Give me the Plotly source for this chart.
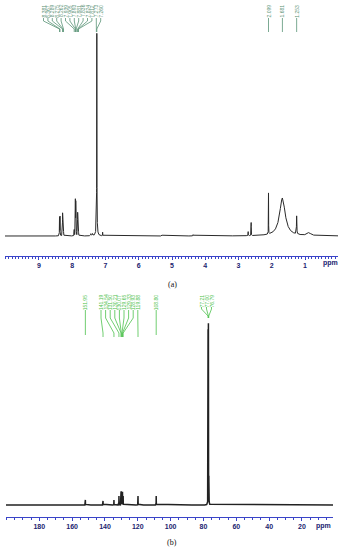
import numpy as np
import plotly.graph_objects as go

W, H = 348, 550

# ---------------- data: (a) 1H NMR ----------------
h_ppm = [8.381, 8.367, 8.289, 8.275, 8.262, 7.939, 7.905, 7.893, 7.881, 7.836, 7.824, 7.812,
         7.44, 7.39, 7.260, 7.262, 7.085, 5.30, 4.37, 2.71, 2.62, 2.099, 1.681, 1.253, 0.88]
h_int = [9.0, 9.5, 11.0, 10.5, 3.0, 3.0, 17.4, 16.0, 8.0, 11.0, 10.5, 3.0,
         1.0, 1.0, 90.0, 11.0, 1.8, 0.4, 0.6, 2.0, 6.5, 20.4, 18.9, 9.0, 1.5]
h_fwhm = [0.006, 0.006, 0.006, 0.006, 0.006, 0.006, 0.006, 0.006, 0.006, 0.006, 0.006, 0.006,
          0.02, 0.02, 0.005, 0.03, 0.006, 0.01, 0.01, 0.006, 0.006, 0.005, 0.2, 0.012, 0.12]
h_labels_left = ["8.381", "8.367", "8.289", "8.275", "8.262",
                 "7.939", "7.905", "7.893", "7.881", "7.836", "7.824", "7.812",
                 "7.273", "7.260"]
h_labels_right = ["2.099", "1.681", "1.253"]
h_ticks = [1, 2, 3, 4, 5, 6, 7, 8, 9]

# ---------------- data: (b) 13C NMR ----------------
c_ppm = [151.95, 141.19, 134.54, 131.50, 130.21, 130.07, 129.65, 129.33, 128.93,
         119.88, 108.80, 77.21, 77.00, 76.79]
c_int = [2.9, 2.3, 2.9, 5.1, 7.4, 7.4, 7.4, 7.4, 5.1, 5.1, 5.1, 98.0, 100.0, 98.0]
c_fwhm = [0.06] * 14
c_labels_single = ["151.95", "108.80"]
c_labels_group = ["141.19", "134.54", "131.50", "130.21", "130.07", "129.65",
                  "129.33", "128.93", "119.88"]
c_labels_solvent = ["77.21", "77.00", "76.79"]
c_ticks = [20, 40, 60, 80, 100, 120, 140, 160, 180]


def spectrum(ppm, inten, fwhm, lo, hi, step):
    x = np.union1d(np.arange(lo, hi, step), np.array(ppm))
    y = np.zeros_like(x)
    for p, a, w in zip(ppm, inten, fwhm):
        y += a / (1.0 + (2.0 * (x - p) / w) ** 2)
    return x, y


# ---------------- geometry (pixels) ----------------
A_X0, A_X1 = 5, 338
A_R = [10.02, 0.01]
A_PB, A_PT, A_BL, A_PEAK = 256, 18, 236, 35
A_K = (A_BL - A_PEAK) / 100.0
B_X0, B_X1 = 6, 333
B_R = [200.3, 1.1]
B_PB, B_PT, B_BL, B_PEAK = 517, 300, 505, 330
B_K = (B_BL - B_PEAK) / 100.0


def px2data(px, x0, x1, r):
    return r[0] + (px - x0) / (x1 - x0) * (r[1] - r[0])


def py(p):
    return 1 - p / H


xa, ya = spectrum(h_ppm, h_int, h_fwhm, 0.0, 10.05, 0.0005)
xb, yb = spectrum(c_ppm, c_int, c_fwhm, 0.0, 200.5, 0.01)

fig = go.Figure()
fig.add_trace(go.Scatter(x=xa, y=ya, mode="lines", line=dict(color="#2a2a2a", width=1),
                         xaxis="x", yaxis="y", hoverinfo="skip"))
fig.add_trace(go.Scatter(x=xb, y=yb, mode="lines", line=dict(color="#222222", width=1.5),
                         xaxis="x2", yaxis="y2", hoverinfo="skip"))

shapes = []
annots = []
GREEN_A = "#5b9477"
GREEN_B = "#4cc24c"


def label(xref, xd, yc, text, color):
    annots.append(dict(xref=xref, yref="paper", x=xd, y=py(yc), text=text, textangle=-90,
                       showarrow=False, xanchor="center", yanchor="middle",
                       font=dict(size=5, color=color, family="Liberation Sans")))


def seg(xref, xa0, ya0, xa1, ya1, color):
    shapes.append(dict(type="line", xref=xref, yref="paper", x0=xa0, y0=py(ya0),
                       x1=xa1, y1=py(ya1), line=dict(color=color, width=0.8)))


def connector(xref, lx, target, ytxt, y1, y2, y3, color):
    seg(xref, lx, ytxt, lx, y1, color)
    seg(xref, lx, y1, target, y2, color)
    seg(xref, target, y2, target, y3, color)


for i, t in enumerate(h_labels_left):
    lpx = 43.5 + i * 4.4
    lx = px2data(lpx, A_X0, A_X1, A_R)
    label("x", lx, 11, t, GREEN_A)
    connector("x", lx, float(t), 18, 21, 29, 32, GREEN_A)
for t in h_labels_right:
    label("x", float(t), 11, t, GREEN_A)
    seg("x", float(t), 18, float(t), 32, GREEN_A)

for t in c_labels_single:
    label("x2", float(t), 302, t, GREEN_B)
    seg("x2", float(t), 310, float(t), 335, GREEN_B)
for i, t in enumerate(c_labels_group):
    lpx = 101 + i * 4.6
    lx = px2data(lpx, B_X0, B_X1, B_R)
    label("x2", lx, 302, t, GREEN_B)
    connector("x2", lx, float(t), 310, 318, 333, 337, GREEN_B)
for i, t in enumerate(c_labels_solvent):
    lpx = 201.5 + i * 5.0
    lx = px2data(lpx, B_X0, B_X1, B_R)
    label("x2", lx, 301, t, GREEN_B)
    connector("x2", lx, float(t), 307, 309, 316, 318, GREEN_B)

AX_COL = "#3a44c8"
TICK_FONT = dict(size=7, color="#1c2470", family="Liberation Sans", weight="bold")

annots.append(dict(xref="paper", yref="paper", x=330 / W, y=py(263), text="ppm",
                   showarrow=False, xanchor="center", yanchor="middle", font=TICK_FONT))
annots.append(dict(xref="paper", yref="paper", x=323 / W, y=py(526), text="ppm",
                   showarrow=False, xanchor="center", yanchor="middle", font=TICK_FONT))
annots.append(dict(xref="paper", yref="paper", x=172 / W, y=py(284), text="(a)",
                   showarrow=False, xanchor="center", yanchor="middle",
                   font=dict(size=8, color="#111111", family="Liberation Serif")))
annots.append(dict(xref="paper", yref="paper", x=172 / W, y=py(542), text="(b)",
                   showarrow=False, xanchor="center", yanchor="middle",
                   font=dict(size=8, color="#111111", family="Liberation Serif")))

common_x = dict(showgrid=False, zeroline=False, showline=True, linecolor=AX_COL, linewidth=1,
                ticks="outside", ticklen=3, tickcolor=AX_COL, tickwidth=1,
                tickfont=TICK_FONT, fixedrange=True)
common_y = dict(visible=False, showgrid=False, zeroline=False, fixedrange=True)

fig.update_layout(
    width=W, height=H, autosize=False,
    margin=dict(l=0, r=0, t=0, b=0),
    paper_bgcolor="white", plot_bgcolor="white",
    showlegend=False,
    xaxis=dict(domain=[A_X0 / W, A_X1 / W], range=A_R, anchor="y",
               tickvals=h_ticks, ticktext=[str(v) for v in h_ticks],
               minor=dict(dtick=0.1, ticklen=1.5, tickcolor=AX_COL, ticks="outside"),
               **common_x),
    yaxis=dict(domain=[py(A_PB), py(A_PT)], anchor="x",
               range=[-(A_PB - A_BL) / A_K, (A_BL - A_PT) / A_K], **common_y),
    xaxis2=dict(domain=[B_X0 / W, B_X1 / W], range=B_R, anchor="y2",
                tickvals=c_ticks, ticktext=[str(v) for v in c_ticks],
                minor=dict(dtick=5, ticklen=1.5, tickcolor=AX_COL, ticks="outside"),
                **common_x),
    yaxis2=dict(domain=[py(B_PB), py(B_PT)], anchor="x2",
                range=[-(B_PB - B_BL) / B_K, (B_BL - B_PT) / B_K], **common_y),
    shapes=shapes,
    annotations=annots,
)

fig.write_html("out.html", config={"displayModeBar": False},
               post_script="document.body.style.margin='0';document.body.style.overflow='hidden';")
